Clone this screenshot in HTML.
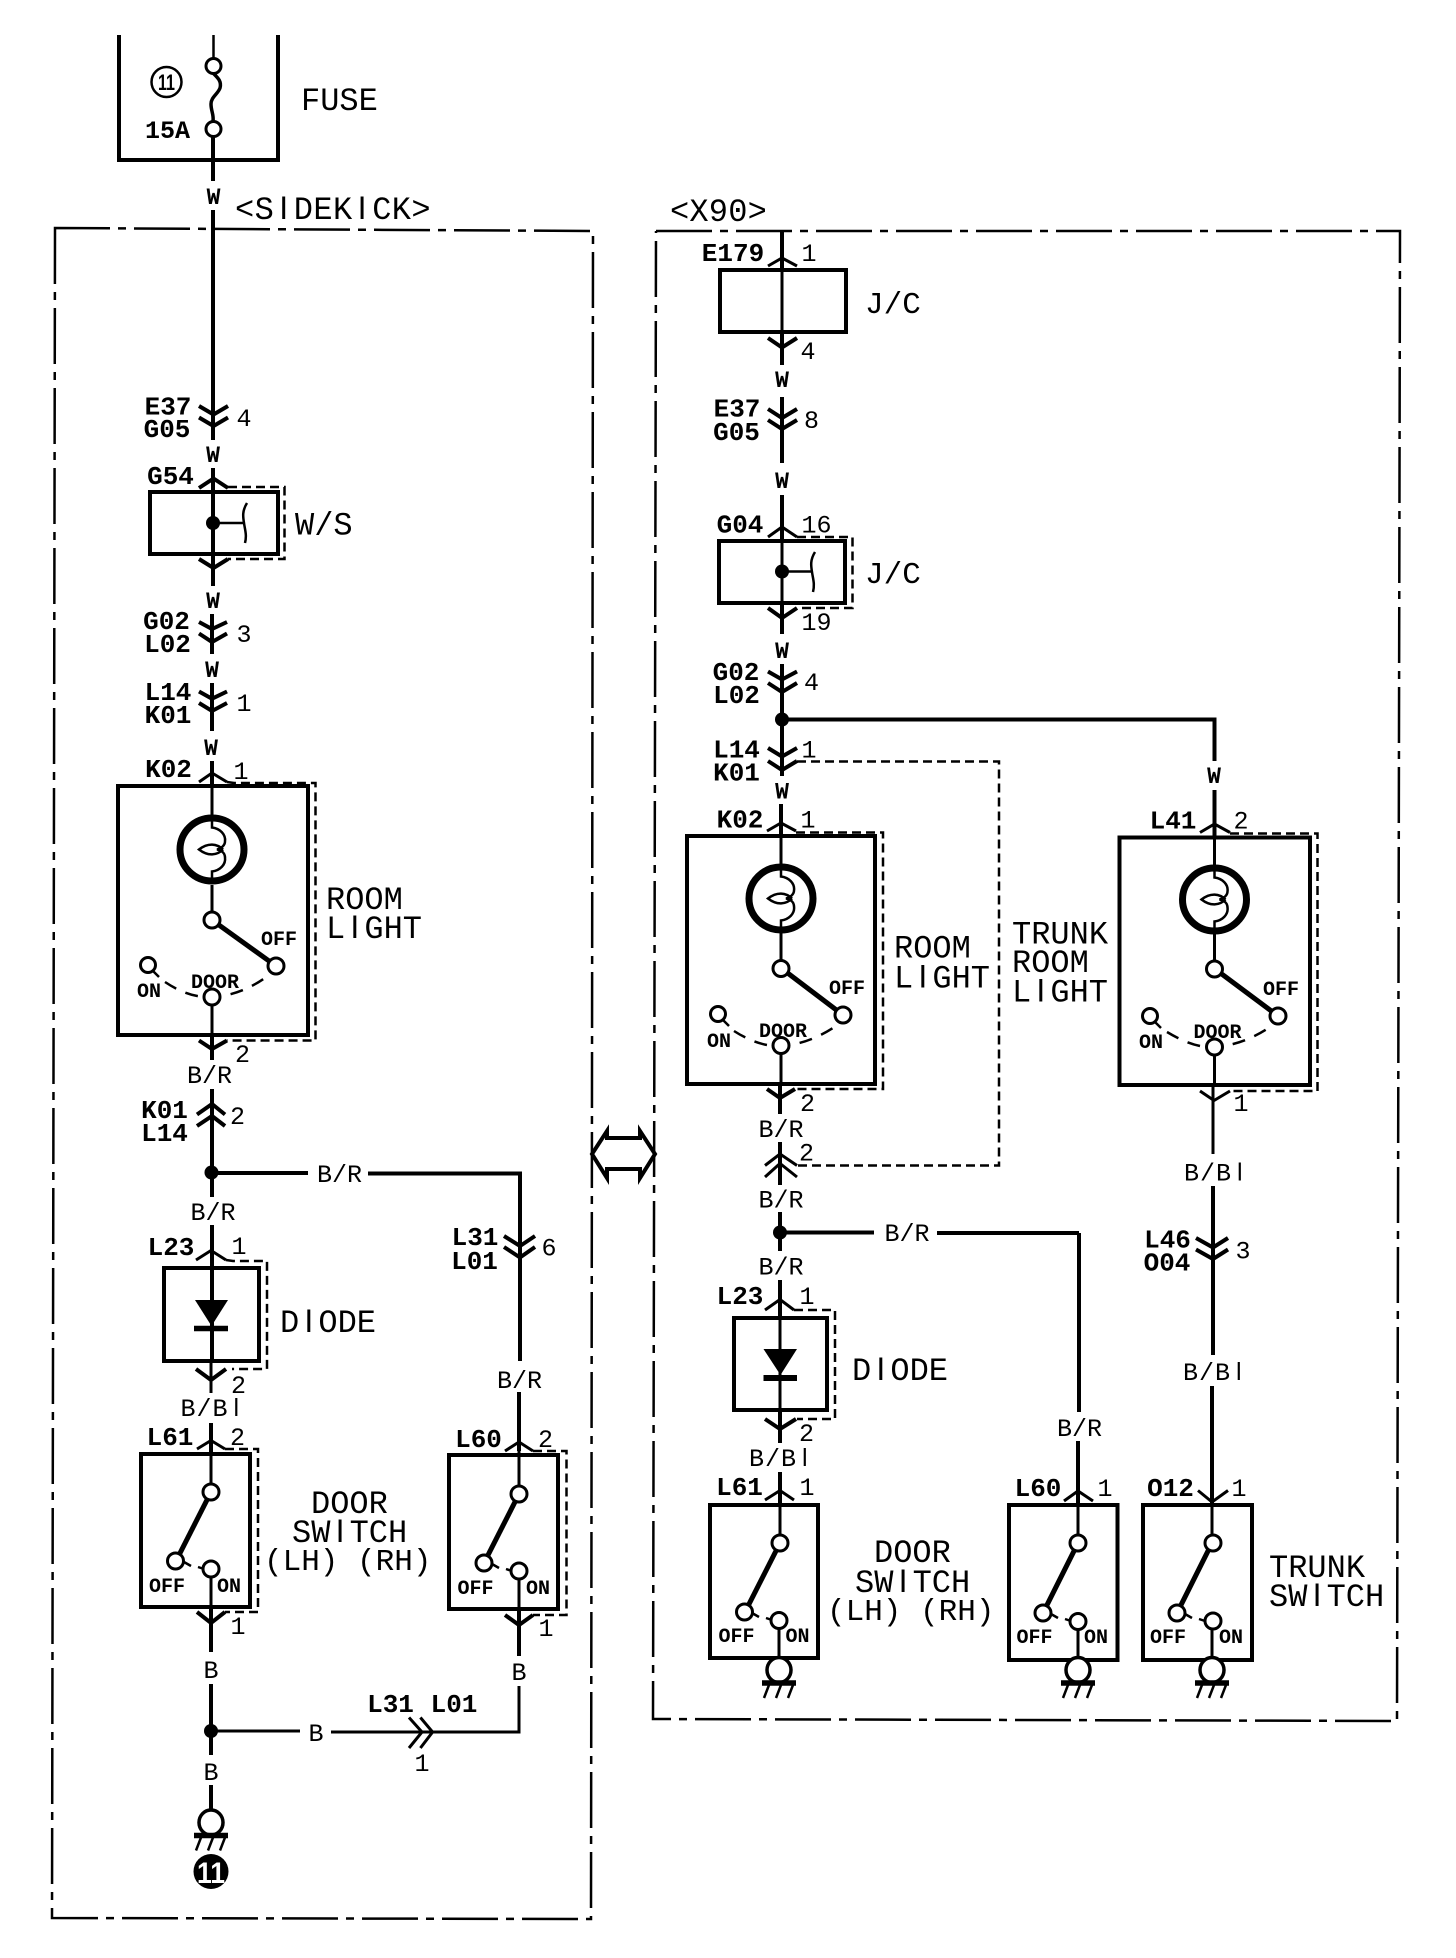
<!DOCTYPE html>
<html><head><meta charset="utf-8"><title>Wiring diagram</title>
<style>
html,body{margin:0;padding:0;background:#fff}
svg{display:block}
text{font-family:"Liberation Mono",monospace;fill:#000}
.b{font-weight:700;font-size:26px;text-anchor:middle}
.g{font-size:25px;text-anchor:middle}
.t{font-size:20px;font-weight:700;text-anchor:middle}
.q{font-size:23px;font-weight:700;text-anchor:middle}
.a{font-size:32px}
.a2{font-size:31px}
.u{font-size:25px;letter-spacing:1px}
.i{font-family:"Liberation Sans",sans-serif}
.w{fill:none;stroke:#000;stroke-width:4}
.n{fill:none;stroke:#000;stroke-width:3}
.h{fill:none;stroke:#000;stroke-width:2.5}
.d{fill:none;stroke:#000;stroke-width:2.5;stroke-dasharray:9 5}
.f{fill:none;stroke:#000;stroke-width:2.5;stroke-dasharray:56 8 8 8}
.x{fill:none;stroke:#000;stroke-width:4}
.l{fill:none;stroke:#000;stroke-width:5}
.c{fill:#fff;stroke:#000;stroke-width:3}
</style></head><body>
<svg width="1456" height="1958" viewBox="0 0 1456 1958" xmlns="http://www.w3.org/2000/svg">
<defs>
<g id="bulb"><ellipse cx="0" cy="0" rx="32" ry="31.5" fill="#fff" stroke="#000" stroke-width="7"/>
<path class="h" d="M0-32v10c8 1 14 7 13 14c0 4-4 7-8 8c5 1 8 4 8 8c1 7-5 13-13 14v10"/>
<path class="h" d="M11 0C5-6-4-7-13 0C-4 7 5 6 11 0"/></g>
<g id="gnd"><ellipse cx="0" cy="0" rx="12" ry="12.5" fill="#fff" stroke="#000" stroke-width="3.5"/>
<path d="M-17 13H17" stroke="#000" stroke-width="5.5" fill="none"/>
<path class="h" d="M-10 15L-15 28M2 15L-3 28M14 15L9 28"/></g>
</defs>

<!-- frames -->
<polyline class="f" points="55,229 55,228 593,231 591,1919 52,1918 55,228"/>
<polyline class="f" points="656,231 1400,231 1397,1721 653,1719 656,231"/>

<!-- FUSE -->
<path class="x" d="M119 35V160H278V35"/>
<path class="h" d="M213.500 35V58"/>
<path class="w" d="M213 135V181M213 210V440M213 468V586M212 614V654M212 683V731M212 761V786M212 1034V1060M212 1089V1197M212 1225V1361M211 1423V1454M211 1607V1652M211 1684V1755M211 1785V1810"/>
<path class="n" d="M212 786V815M212 885V912M212 1004V1034M211 1361V1393M211 1454V1484M211 1577V1607"/>
<path d="M213 73c4 4 9 8 7 15c-2 6-9 9-9 16c0 7 3 11 2 17" fill="none" stroke="#000" stroke-width="3.500"/>
<circle class="c" cx="213.500" cy="66" r="7.500"/><circle class="c" cx="213.500" cy="129" r="7.500"/>
<circle cx="166.500" cy="82" r="15" fill="none" stroke="#000" stroke-width="2.500"/>
<text x="158" y="90" font-size="22" class="i" font-weight="700" textLength="17" lengthAdjust="spacingAndGlyphs">11</text>
<text x="167.500" y="138" class="g" font-weight="700">15A</text>
<text x="301" y="110" class="a">FUSE</text>
<text x="213.500" y="204" class="q">W</text>
<text x="235" y="219" class="a" letter-spacing=".4"><tspan>&lt;S</tspan><tspan class="i" x="279.200">I</tspan><tspan x="293.800">DEK</tspan><tspan class="i" x="357.600">I</tspan><tspan x="372.200">CK&gt;</tspan></text>

<!-- E37 -->
<path class="x" d="M199 406L213.500 414.500L228 406M199 417.500L213.500 426L228 417.500"/>
<text x="168" y="414.500" class="b">E37</text>
<text x="167" y="437" class="b">G05</text>
<text x="244" y="426" class="g">4</text>
<text x="213" y="462" class="q">W</text>

<!-- G54 -->
<path class="x" d="M199 488L213.500 478.500L228 488"/>
<text x="170.500" y="484" class="b">G54</text>
<rect class="x" x="150" y="492" width="128" height="62"/>
<path class="d" d="M228 487H284.500V559H228"/>
<path class="x" d="M199 559L213.500 568L228 559"/>
<circle cx="213" cy="523" r="7"/>
<path class="h" d="M213 523H243"/>
<path class="h" d="M247 503c-5 8-4 14-3 20c1 7 3 12 1 20"/>
<text x="295" y="534.500" class="a">W/S</text>
<text x="213" y="608" class="q">W</text>

<!-- G02 -->
<path class="x" d="M199 622L212 629L227 622M199 633.500L212 642L227 633.500"/>
<text x="166.500" y="629" class="b">G02</text>
<text x="167.500" y="652" class="b">L02</text>
<text x="244" y="642" class="g">3</text>
<text x="212" y="677" class="q">W</text>

<!-- L14 -->
<path class="x" d="M199 691.500L212 698.700L227 691.500M199 703L212 711L227 703"/>
<text x="168" y="700" class="b">L14</text>
<text x="168" y="723" class="b">K01</text>
<text x="244" y="711" class="g">1</text>
<text x="211" y="755" class="q">W</text>

<!-- K02 left -->
<path class="n" d="M199 782L212 773L227 782"/>
<text x="168.500" y="777" class="b">K02</text>
<text x="241" y="779" class="g">1</text>
<rect class="x" x="118" y="786" width="190" height="249"/>
<path class="d" d="M227 782L234 783H315.500V1040.500H234L227 1040.500"/>
<path class="x" d="M199 1040.500L212 1049L227 1040.500"/>
<use href="#bulb" x="212" y="849.500"/>
<path class="l" d="M212 920L276 966"/>
<path d="M165 982C180 992 196 998 212 997C235 996 255 986 271 973.500" fill="none" stroke="#000" stroke-width="2.500" stroke-dasharray="13 10"/>
<circle class="c" cx="212" cy="920" r="8"/><circle class="c" cx="276" cy="966" r="8"/>
<circle class="c" cx="148" cy="965" r="7.500"/><path class="h" d="M153 971L159 977"/>
<circle class="c" cx="212" cy="997" r="8"/>
<text x="149" y="997" class="t">ON</text>
<text x="215" y="988" class="t">DOOR</text>
<text x="279" y="945" class="t">OFF</text>
<text x="326" y="909" class="a">ROOM</text>
<text x="326" y="938" class="a">L<tspan class="i" x="350.400">I</tspan><tspan x="364.400">GHT</tspan></text>
<text x="242.500" y="1062" class="g">2</text>
<text x="209.500" y="1083" class="g">B/R</text>

<!-- K01 L14 -->
<path class="x" d="M197 1114.500L212 1104L225 1114.500M197 1126L212 1116L225 1126"/>
<text x="164.500" y="1118" class="b">K01</text>
<text x="164.500" y="1141" class="b">L14</text>
<text x="237.500" y="1124" class="g">2</text>
<circle cx="211.500" cy="1172.500" r="7"/>
<path class="w" d="M211 1173H308M368 1173.500H520V1361M519 1392V1451"/>
<text x="339.500" y="1182" class="g">B/R</text>
<text x="213" y="1220" class="g">B/R</text>

<!-- L31 L01 (6) -->
<path class="x" d="M504 1236L520 1246L535 1236M504 1247L520 1257.500L535 1247"/>
<text x="475" y="1245" class="b">L31</text>
<text x="474.500" y="1269" class="b">L01</text>
<text x="549" y="1255.500" class="g">6</text>

<!-- L23 diode left -->
<path class="n" d="M196 1260L211 1250.500L226 1260"/>
<text x="171" y="1255" class="b">L23</text>
<text x="239" y="1254" class="g">1</text>
<rect class="x" x="164" y="1268" width="95" height="93"/>
<path class="d" d="M226 1260L233 1261H267V1369H232"/>
<path d="M195 1300H228L211.500 1326Z"/>
<path d="M194 1328.500H228" stroke="#000" stroke-width="5.500"/>
<path class="x" d="M196 1369L211 1380L226 1369"/>
<text x="280" y="1332" class="a">D<tspan class="i" x="304.400">I</tspan><tspan x="318.400">ODE</tspan></text>
<text x="238.500" y="1393" class="g">2</text>
<text x="180.500" y="1416" class="u">B/B<tspan class="i" x="233.500">l</tspan></text>
<text x="519.500" y="1388" class="g">B/R</text>

<!-- L61 left -->
<path class="n" d="M197 1449L211 1440.500L225 1449"/>
<text x="170" y="1445" class="b">L61</text>
<text x="237.500" y="1445" class="g">2</text>
<rect class="x" x="141" y="1454" width="109" height="153"/>
<path class="d" d="M225 1449H258V1612H225"/>
<path class="x" d="M197 1612L211 1623L225 1612"/>
<path class="l" d="M211 1492L176 1561"/>
<circle class="c" cx="211" cy="1492" r="8"/><circle class="c" cx="175.500" cy="1561" r="8"/><circle class="c" cx="211" cy="1569" r="8"/>
<path class="h" d="M184 1562L191 1566M198 1567L204 1569"/>
<text x="167" y="1592" class="t">OFF</text>
<text x="229" y="1592" class="t">ON</text>
<text x="238" y="1634" class="g">1</text>

<text x="311" y="1513" class="a">DOOR</text>
<text x="292" y="1542" class="a">SW<tspan class="i" x="335.600">I</tspan><tspan x="349.600">TCH</tspan></text>
<text x="264" y="1570" class="a2" xml:space="preserve">(LH) (RH)</text>

<!-- L60 left -->
<path class="n" d="M505 1451L519 1442L533 1451"/>
<text x="478.500" y="1447" class="b">L60</text>
<text x="545.500" y="1447" class="g">2</text>
<rect class="x" x="449" y="1455" width="109" height="154"/>
<path class="d" d="M533 1451H566.500V1615H533"/>
<path class="n" d="M519 1451V1486M519 1578V1609"/>
<path class="x" d="M505 1615L519 1625L533 1615"/>
<path class="w" d="M519 1609V1656"/>
<path class="l" d="M519 1494L484 1563"/>
<circle class="c" cx="519" cy="1494" r="8"/><circle class="c" cx="484" cy="1563" r="8"/><circle class="c" cx="519" cy="1571" r="8"/>
<path class="h" d="M492 1564L499 1568M506 1569L512 1571"/>
<text x="475.500" y="1594" class="t">OFF</text>
<text x="538" y="1594" class="t">ON</text>
<text x="546" y="1636" class="g">1</text>

<!-- B bottom left -->
<text x="211" y="1678" class="g">B</text>
<text x="519" y="1680" class="g">B</text>
<circle cx="211" cy="1731" r="7"/>
<path class="n" d="M211 1731H300M331 1732H519V1686"/>
<text x="316" y="1741" class="g">B</text>
<path class="n" d="M409 1717.500L422 1732L409 1748M420.400 1717.500L432.600 1732L420.400 1748"/>
<text x="390.500" y="1712" class="b">L31</text>
<text x="454" y="1712" class="b">L01</text>
<text x="422" y="1771" class="g">1</text>
<text x="211" y="1780" class="g">B</text>
<use href="#gnd" x="211" y="1822.500"/>
<circle cx="211" cy="1871.500" r="17.500"/>
<text x="197" y="1883" font-size="30" class="i" font-weight="700" textLength="28" lengthAdjust="spacingAndGlyphs" style="fill:#fff">11</text>

<!-- double arrow -->
<path d="M607 1138H640V1131L655 1154L640 1178V1169H607V1178L592 1154L607 1131Z" fill="none" stroke="#000" stroke-width="4"/>

<!-- RIGHT -->
<text x="670" y="221" class="a" letter-spacing=".2">&lt;X90&gt;</text>
<path class="w" d="M782 231V270M782 331V365M782 397V463M782 495V541M782 603V634M782 664V776M781 804V836M780 1084V1114M780 1142V1185M780 1212V1251M780 1280V1318M780 1410V1443M780 1472V1505M1079 1233V1412M1078 1441V1505M1214.500 790V837M1213 1186V1355M1212 1386V1503"/>
<path class="n" d="M782 270V331M782 541V603M781 836V870M781 930V960M781 1053V1084M780 1318V1410M780 1505V1535M1078 1505V1535M1212 1505V1535M1214.500 837V870M1214.500 930V960M1214.500 1055V1085M1213 1085V1154M779 1628V1658M1078 1628V1660M1212 1628V1660"/>

<path class="n" d="M768 266L782 258L797 266"/>
<text x="733" y="261" class="b">E179</text>
<text x="809" y="261" class="g">1</text>
<rect class="x" x="720" y="270" width="126" height="62"/>
<text x="865" y="313" class="a2">J/C</text>
<path class="x" d="M768 338L782 347.500L797 338"/>
<text x="808" y="359" class="g">4</text>
<text x="782" y="387" class="q">W</text>

<path class="x" d="M768 409L782 418L797 409M768 420L782 429L797 420"/>
<text x="737" y="416.500" class="b">E37</text>
<text x="736.500" y="440" class="b">G05</text>
<text x="811.500" y="428" class="g">8</text>
<text x="782" y="488" class="q">W</text>

<path class="n" d="M768 537L782 527L797 537"/>
<text x="740" y="532.700" class="b">G04</text>
<text x="816.500" y="532.700" class="g">16</text>
<rect class="x" x="719" y="541" width="126" height="62"/>
<path class="d" d="M797 537H852.500V608H797"/>
<path class="x" d="M768 608L782 618L797 608"/>
<circle cx="782" cy="571.500" r="7"/><path class="h" d="M782 571.500H812"/>
<path class="h" d="M815 552c-5 8-4 14-3 20c1 7 3 12 1 20"/>
<text x="865" y="583" class="a2">J/C</text>
<text x="816.500" y="630" class="g">19</text>
<text x="782" y="658" class="q">W</text>

<path class="x" d="M768 671.500L782 679.500L797 671.500M768 683L782 692L797 683"/>
<text x="736" y="680" class="b">G02</text>
<text x="736.500" y="703" class="b">L02</text>
<text x="811.500" y="690" class="g">4</text>
<circle cx="782" cy="719.500" r="7"/>
<path class="w" d="M782 719.500H1214.500V761"/>
<text x="1214" y="783" class="q">W</text>

<path class="x" d="M768 748L782 756.500L797 748M768 761L782 770L797 761"/>
<text x="736.500" y="757.500" class="b">L14</text>
<text x="736.500" y="780.500" class="b">K01</text>
<text x="809" y="757.500" class="g">1</text>
<path class="d" d="M797 761.500H999V1165.500H797"/>
<text x="782" y="798.500" class="q">W</text>

<!-- K02 right -->
<path class="n" d="M767 831L781 823L796 831"/>
<text x="740" y="827.500" class="b">K02</text>
<text x="808" y="827.500" class="g">1</text>
<rect class="x" x="687" y="836" width="188" height="248"/>
<path class="d" d="M796 832.500H883V1089H796"/>
<use href="#bulb" x="781" y="898.500"/>
<path class="l" d="M781 968L843 1015"/>
<path d="M734 1031C748 1040 765 1047 781 1046C800 1045 820 1037 836 1026" fill="none" stroke="#000" stroke-width="2.500" stroke-dasharray="13 10"/>
<circle class="c" cx="781" cy="968.500" r="8"/><circle class="c" cx="843" cy="1015" r="8"/>
<circle class="c" cx="718" cy="1014" r="7.500"/><path class="h" d="M723 1020L729 1026"/>
<circle class="c" cx="781" cy="1045.500" r="8"/>
<text x="719" y="1047" class="t">ON</text>
<text x="783" y="1037" class="t">DOOR</text>
<text x="847" y="994" class="t">OFF</text>
<text x="894" y="957.500" class="a">ROOM</text>
<text x="894" y="987.500" class="a">L<tspan class="i" x="918.400">I</tspan><tspan x="932.400">GHT</tspan></text>
<text x="1012" y="943.500" class="a">TRUNK</text>
<text x="1012" y="972" class="a">ROOM</text>
<text x="1012" y="1001.500" class="a">L<tspan class="i" x="1036.400">I</tspan><tspan x="1050.400">GHT</tspan></text>
<path class="x" d="M767 1089L780 1098L795 1089"/>
<text x="807.500" y="1111" class="g">2</text>
<text x="781" y="1137" class="g">B/R</text>

<path class="n" d="M765 1165.500L780 1154L797 1165.500M765 1177L780 1163.500L797 1177"/>
<text x="806.500" y="1160.500" class="g">2</text>
<text x="781" y="1207.500" class="g">B/R</text>
<circle cx="780" cy="1232.500" r="7"/>
<path class="w" d="M780 1232.500H874M937 1233H1079"/>
<text x="907" y="1241" class="g">B/R</text>
<text x="781" y="1274.500" class="g">B/R</text>

<!-- L23 right -->
<path class="n" d="M765 1310L780 1299.500L794 1310"/>
<text x="740" y="1304" class="b">L23</text>
<text x="807" y="1304" class="g">1</text>
<rect class="x" x="734" y="1318" width="93" height="92"/>
<path class="d" d="M794 1310H835V1419H797"/>
<path d="M763.500 1349H797L780.500 1375Z"/>
<path d="M763.500 1378H797" stroke="#000" stroke-width="6"/>
<path class="x" d="M765 1419L780 1429L796 1419"/>
<text x="852" y="1380" class="a">D<tspan class="i" x="876.400">I</tspan><tspan x="890.400">ODE</tspan></text>
<text x="806.500" y="1441" class="g">2</text>
<text x="749" y="1466" class="u">B/B<tspan class="i" x="802">l</tspan></text>
<text x="1079.500" y="1436" class="g">B/R</text>

<!-- L61 right -->
<path class="n" d="M765 1500L780 1490.500L794 1500"/>
<text x="739.500" y="1495" class="b">L61</text>
<text x="807" y="1495" class="g">1</text>
<rect class="x" x="710" y="1505" width="108" height="153"/>
<path class="l" d="M780 1543L745 1612"/>
<circle class="c" cx="780" cy="1543" r="8"/><circle class="c" cx="744.500" cy="1612" r="8"/><circle class="c" cx="779" cy="1620.500" r="8"/>
<path class="h" d="M752 1613L759 1617M766 1618L772 1620"/>
<text x="736.500" y="1642" class="t">OFF</text>
<text x="797.500" y="1642" class="t">ON</text>
<use href="#gnd" x="779" y="1670"/>
<text x="874" y="1562" class="a">DOOR</text>
<text x="855" y="1592" class="a">SW<tspan class="i" x="898.600">I</tspan><tspan x="912.600">TCH</tspan></text>
<text x="827" y="1620" class="a2" xml:space="preserve">(LH) (RH)</text>

<!-- L60 right -->
<path class="n" d="M1064 1501L1078 1491L1093 1501"/>
<text x="1038" y="1496" class="b">L60</text>
<text x="1105" y="1496" class="g">1</text>
<rect class="x" x="1009" y="1505" width="108.500" height="155"/>
<path class="l" d="M1078 1543L1043 1613"/>
<circle class="c" cx="1078" cy="1543" r="8"/><circle class="c" cx="1043" cy="1613" r="8"/><circle class="c" cx="1078" cy="1621.500" r="8"/>
<path class="h" d="M1051 1614L1058 1618M1065 1619L1071 1621"/>
<text x="1034.500" y="1643" class="t">OFF</text>
<text x="1096" y="1643" class="t">ON</text>
<use href="#gnd" x="1078" y="1670"/>

<!-- O12 -->
<path class="n" d="M1198 1490.500L1212 1502L1228 1490.500"/>
<text x="1170.500" y="1496" class="b">O12</text>
<text x="1239" y="1496" class="g">1</text>
<rect class="x" x="1143" y="1505" width="109" height="155"/>
<path class="l" d="M1212 1543L1177 1613"/>
<circle class="c" cx="1213" cy="1543" r="8"/><circle class="c" cx="1177" cy="1613" r="8"/><circle class="c" cx="1213" cy="1621" r="8"/>
<path class="h" d="M1185 1614L1192 1618M1199 1619L1205 1621"/>
<text x="1168" y="1643" class="t">OFF</text>
<text x="1231" y="1643" class="t">ON</text>
<use href="#gnd" x="1212" y="1670"/>
<text x="1269" y="1577" class="a">TRUNK</text>
<text x="1269" y="1606" class="a">SW<tspan class="i" x="1312.600">I</tspan><tspan x="1326.600">TCH</tspan></text>

<!-- L41 -->
<path class="n" d="M1200 832.500L1214.500 824L1230 832.500"/>
<text x="1173" y="828.500" class="b">L41</text>
<text x="1241" y="828.500" class="g">2</text>
<rect class="x" x="1119.500" y="837.500" width="190.500" height="247.500"/>
<path class="d" d="M1230 833.500H1317.500V1091H1230"/>
<use href="#bulb" x="1214.500" y="899.500"/>
<path class="l" d="M1215 969L1278 1016"/>
<path d="M1167 1032C1182 1041 1198 1048 1214 1047C1234 1046 1254 1038 1270 1027" fill="none" stroke="#000" stroke-width="2.500" stroke-dasharray="13 10"/>
<circle class="c" cx="1214.500" cy="969" r="8"/><circle class="c" cx="1278" cy="1016" r="8"/>
<circle class="c" cx="1150" cy="1016" r="7.500"/><path class="h" d="M1155 1022L1161 1028"/>
<circle class="c" cx="1214.500" cy="1047" r="8"/>
<text x="1151" y="1048" class="t">ON</text>
<text x="1217.500" y="1038" class="t">DOOR</text>
<text x="1281" y="995" class="t">OFF</text>
<path class="n" d="M1200 1091L1214 1100.500L1230 1091"/>
<text x="1241" y="1111" class="g">1</text>
<text x="1184" y="1180.500" class="u">B/B<tspan class="i" x="1237">l</tspan></text>
<path class="x" d="M1196 1238L1213 1247.500L1228 1238M1196 1249.500L1213 1259L1228 1249.500"/>
<text x="1167.500" y="1247.500" class="b">L46</text>
<text x="1167" y="1270.500" class="b">O04</text>
<text x="1243" y="1258.500" class="g">3</text>
<text x="1183" y="1380" class="u">B/B<tspan class="i" x="1236">l</tspan></text>
</svg>
</body></html>
